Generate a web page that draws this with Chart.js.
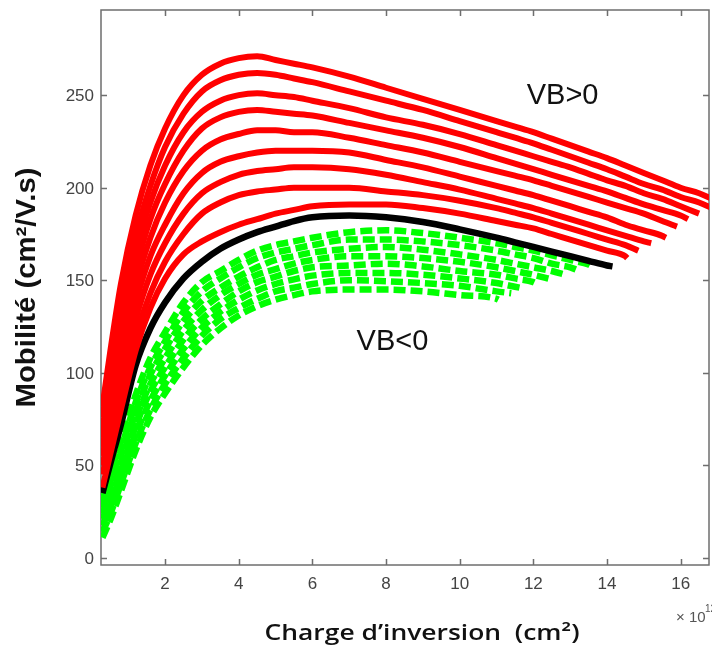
<!DOCTYPE html>
<html>
<head>
<meta charset="utf-8">
<script src="https://cdn.jsdelivr.net/npm/chart.js@4.4.0/dist/chart.umd.min.js"></script>
<style>
html, body { margin: 0; padding: 0; background: #fff; }
#graf { display: block; }
</style>
</head>
<body>
<canvas id="graf" width="712" height="646"></canvas>
<script>
// charge d'inversion (x 1e12 cm-2) : grille commune a toutes les courbes
const charge = [0.3, 0.5, 0.8, 1.2, 1.6, 2, 2.5, 3, 3.5, 4, 4.5, 5, 5.5, 6, 7, 8, 9, 10, 11, 11.5, 12, 12.5, 13, 13.5, 14, 14.5, 15, 15.5, 16, 16.5];

// VB > 0 (rouge), de la plus haute a la plus basse ; derniere valeur = fin de courbe
const vbPos1 = [82, 110, 148, 185, 212, 232, 250, 261, 267, 270, 271, 269, 267, 265, 260, 254, 248, 242, 236, 233, 230, 226.5, 223, 219.5, 216, 212, 208, 204, 200, 197, 194];
const vbPos2 = [76, 102, 138, 174, 201, 222, 240, 252, 258, 261, 262, 261, 259, 257, 252, 247, 242, 236, 230, 227, 224, 220.5, 217, 213.5, 210, 206, 202, 199, 195, 192, 189];
const vbPos3 = [70, 95, 130, 165, 192, 212, 230, 241, 247, 250, 251, 250, 249, 247, 243, 238, 234, 229, 223, 220, 217, 214, 211, 207.5, 204, 201, 197, 194, 190, 186];
const vbPos4 = [65, 88, 122, 156, 183, 202, 220, 232, 238, 241, 242, 241, 240, 239, 235, 231, 227, 222, 216, 213, 210, 207, 204, 201, 198, 194.5, 191, 188, 185, 183];
const vbPos5 = [60, 82, 114, 147, 173, 192, 209, 220, 226, 229, 231, 231, 230, 230, 227, 223, 219, 214, 209, 206.5, 204, 201, 198, 195, 192, 189, 186, 182, 179];
const vbPos6 = [55, 76, 106, 138, 163, 180, 197, 208, 214, 217, 219, 220, 220, 220, 219, 215, 211, 206, 201, 198.5, 196, 193, 190, 187, 184, 180, 177, 174, 173];
const vbPos7 = [50, 69, 98, 129, 153, 170, 186, 197, 203, 207, 209, 210, 211, 211, 210, 207, 203, 199, 194, 191.5, 189, 186, 183, 180, 177, 174, 171, 170];
const vbPos8 = [45, 62, 89, 120, 143, 160, 175, 186, 192, 196, 198, 199, 200, 200, 200, 198, 196, 193, 189, 186.5, 184, 181, 178, 175, 172, 169, 166];
const vbPos9 = [38, 55, 80, 112, 135, 151, 164, 171, 176, 180, 183, 186, 188, 190, 191, 191, 189, 186, 182, 180, 178, 175, 172, 169, 166, 163, 162];
const finVbPos = [16.86, 16.86, 16.5, 16.2, 15.9, 15.6, 15.2, 14.85, 14.55];

// VB = 0 (noir)
const vbZero = [35, 50, 72, 104, 124, 138, 151, 160, 167, 172, 176, 179, 182, 184, 185, 184, 181.5, 177.5, 173, 170.5, 168, 165.5, 163, 160.5, 158, 157.5];
const finVbZero = 14.15;

// VB < 0 (vert, pointille)
const vbNeg1 = [33, 45, 63, 88, 108, 122, 138, 149, 155, 161, 166, 169, 171, 173, 176, 177, 175.5, 173, 170, 168, 166, 163.5, 161, 158.5, 158];
const vbNeg2 = [30, 41, 59, 84, 103, 117, 133, 144, 151, 157, 162, 165, 167, 169, 172, 172, 171, 169, 166, 164, 162, 159, 157, 155.5];
const vbNeg3 = [27, 38, 55, 79, 99, 113, 128, 139, 146, 152, 157, 161, 163, 165, 167, 168, 166.5, 164, 161, 159, 157, 155, 153];
const vbNeg4 = [24, 34, 51, 75, 94, 108, 123, 134, 142, 148, 153, 156, 159, 161, 163, 163, 162, 160, 157, 155, 153, 150.5];
const vbNeg5 = [21, 31, 47, 71, 90, 103, 118, 129, 137, 144, 149, 152, 155, 157, 158, 159, 157.5, 155, 153, 151, 149, 148];
const vbNeg6 = [17.5, 27, 43.5, 66.5, 85, 98.5, 113, 124.5, 133, 139.5, 144.5, 148, 150.5, 152.5, 154, 154, 153, 151, 148.5, 146.5, 145.5];
const vbNeg7 = [14, 23, 40, 62, 80, 94, 108, 120, 129, 135, 140, 144, 146, 148, 150, 149.5, 148.5, 147, 144, 143];
const vbNeg8 = [11, 20, 36, 58, 76, 89, 103, 115, 124, 131, 136, 139.5, 142, 144, 145, 145, 144, 142, 140, 139.5];
const finVbNeg = [13.55, 13.2, 12.85, 12.5, 12.1, 11.75, 11.4, 11.05];

const ticksX = [2, 4, 6, 8, 10, 12, 14, 16];
const ticksY = [0, 50, 100, 150, 200, 250];

// annotations (coordonnees en donnees)
const txtVbPos = { x: 11.82, y: 245, label: 'VB>0' };
const txtVbNeg = { x: 7.2, y: 112.5, label: 'VB<0' };

function courbe(ys, fin) {
    const pts = ys.slice(0, -1).map((y, i) => ({ x: charge[i], y }));
    pts.push({ x: fin, y: ys[ys.length - 1] });
    return pts;
}

const rouges = [vbPos1, vbPos2, vbPos3, vbPos4, vbPos5, vbPos6, vbPos7, vbPos8, vbPos9];
const verts = [vbNeg1, vbNeg2, vbNeg3, vbNeg4, vbNeg5, vbNeg6, vbNeg7, vbNeg8];

const datasets = [];
rouges.forEach((ys, i) => {
    datasets.push({
        data: courbe(ys, finVbPos[i]),
        borderColor: '#ff0000',
        borderWidth: 6,
        borderJoinStyle: 'round'
    });
});
datasets.push({
    data: courbe(vbZero, finVbZero),
    borderColor: '#000000',
    borderWidth: 6.5,
    borderJoinStyle: 'round'
});
verts.forEach((ys, i) => {
    datasets.push({
        data: courbe(ys, finVbNeg[i]),
        borderColor: '#00ff00',
        borderWidth: 6.5,
        borderDash: [12, 5],
        borderCapStyle: 'butt'
    });
});

// texte etire horizontalement jusqu'a une largeur donnee
function texteLargeur(ctx, txt, largeur) {
    const w = ctx.measureText(txt).width;
    ctx.scale(largeur / w, 1);
    ctx.fillText(txt, 0, 0);
}

const cadre = {
    id: 'cadre',
    beforeDatasetsDraw(chart) {
        const { ctx, chartArea: a, scales: { x, y } } = chart;
        ctx.save();
        ctx.strokeStyle = '#6e6e6e';
        ctx.lineWidth = 1.5;
        ctx.strokeRect(a.left, a.top, a.right - a.left, a.bottom - a.top);
        ctx.beginPath();
        ticksX.forEach(v => {
            const px = Math.round(x.getPixelForValue(v)) + 0.5;
            ctx.moveTo(px, a.bottom); ctx.lineTo(px, a.bottom - 6);
            ctx.moveTo(px, a.top); ctx.lineTo(px, a.top + 6);
        });
        ticksY.forEach(v => {
            const py = Math.round(y.getPixelForValue(v)) + 0.5;
            ctx.moveTo(a.left, py); ctx.lineTo(a.left + 6, py);
            ctx.moveTo(a.right, py); ctx.lineTo(a.right - 6, py);
        });
        ctx.stroke();

        // etiquettes des graduations
        ctx.fillStyle = '#444';
        ctx.font = '17px "Liberation Sans"';
        ctx.textBaseline = 'alphabetic';
        ctx.textAlign = 'center';
        ticksX.forEach(v => ctx.fillText(String(v), x.getPixelForValue(v), a.bottom + 24));
        ctx.textAlign = 'right';
        ticksY.forEach(v => ctx.fillText(String(v), a.left - 7, y.getPixelForValue(v) + 6));
        ctx.restore();
    },
    afterDraw(chart) {
        const { ctx, chartArea: a, scales: { x, y } } = chart;
        ctx.save();
        ctx.fillStyle = '#111';
        ctx.font = '29px "Liberation Sans"';
        ctx.textAlign = 'left';
        ctx.textBaseline = 'alphabetic';
        [txtVbPos, txtVbNeg].forEach(t => {
            ctx.fillText(t.label, x.getPixelForValue(t.x), y.getPixelForValue(t.y));
        });

        // titre axe x
        ctx.textAlign = 'center';
        ctx.font = '600 21px "Open Sans"';
        ctx.save();
        ctx.translate(422, 640);
        texteLargeur(ctx, 'Charge d\u2019inversion  (cm\u00b2)', 315);
        ctx.restore();

        // titre axe y
        ctx.save();
        ctx.translate(35, (a.top + a.bottom) / 2);
        ctx.rotate(-Math.PI / 2);
        ctx.font = 'bold 28px "Liberation Sans"';
        texteLargeur(ctx, 'Mobilit\u00e9 (cm\u00b2/V.s)', 240);
        ctx.restore();

        // facteur d'echelle
        ctx.fillStyle = '#555';
        ctx.textAlign = 'left';
        ctx.font = '15px "Liberation Sans"';
        ctx.fillText('\u00d7 10', 676, 622);
        ctx.font = '10px "Liberation Sans"';
        ctx.fillText('12', 705, 612);
        ctx.restore();
    }
};

new Chart(document.getElementById('graf'), {
    type: 'line',
    data: { datasets },
    options: {
        responsive: false,
        animation: false,
        devicePixelRatio: 1,
        layout: { padding: { top: 10, right: 3, left: 0, bottom: 0 } },
        elements: {
            point: { radius: 0, hoverRadius: 0 },
            line: { tension: 0, cubicInterpolationMode: 'monotone', fill: false }
        },
        plugins: { legend: { display: false }, tooltip: { enabled: false } },
        scales: {
            x: {
                type: 'linear',
                min: 0.26,
                max: 16.77,
                afterFit: s => { s.height = 81; },
                afterBuildTicks: s => { s.ticks = ticksX.map(v => ({ value: v })); },
                grid: { display: false, drawTicks: false },
                border: { display: false },
                ticks: { display: false }
            },
            y: {
                type: 'linear',
                min: -3.8,
                max: 296,
                afterFit: s => { s.width = 101; },
                afterBuildTicks: s => { s.ticks = ticksY.map(v => ({ value: v })); },
                grid: { display: false, drawTicks: false },
                border: { display: false },
                ticks: { display: false }
            }
        }
    },
    plugins: [cadre]
});
</script>
</body>
</html>
